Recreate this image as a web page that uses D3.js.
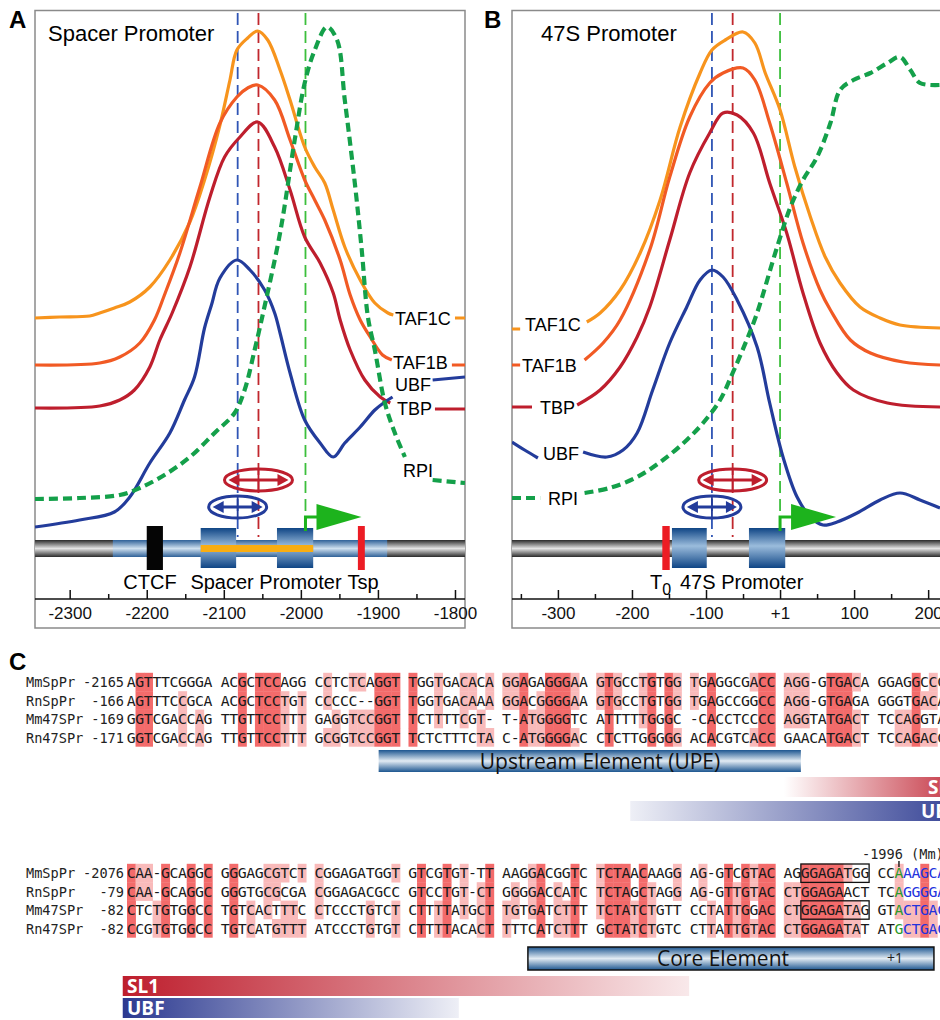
<!DOCTYPE html>
<html>
<head>
<meta charset="utf-8">
<script src="https://cdn.jsdelivr.net/npm/d3@7"></script>
<style>
  body { margin: 0; background: #fff; }
  svg { display: block; font-family: "Liberation Sans", Arial, sans-serif; }
</style>
</head>
<body>
<svg id="fig" width="940" height="1020"></svg>
<script>
// ---------- panel A: spacer promoter (position relative to 47S +1, occupancy a.u.) ----------
const spacerTicks = [-2300, -2200, -2100, -2000, -1900, -1800];
const spacerMinor = [-2250, -2150, -2050, -1950, -1850];
const spacerTAF1C = [[-2345,282],[-2313,283],[-2274,284],[-2261,287],[-2242,292],[-2222,298],[-2196,313],[-2170,340],[-2144,378],[-2125,420],[-2105,475],[-2092,520],[-2083,550],[-2069,562],[-2056,569],[-2043,560],[-2027,530],[-2014,500],[-1995,453],[-1982,433],[-1969,417],[-1958,390],[-1943,353],[-1923,320],[-1904,297],[-1887,287],[-1880,285], null, [-1800,282],[-1787,282]];
const spacerTAF1B = [[-2345,235],[-2261,237],[-2235,243],[-2209,257],[-2190,280],[-2177,305],[-2157,347],[-2131,413],[-2105,477],[-2083,503],[-2069,512],[-2056,515],[-2034,500],[-2014,460],[-1995,420],[-1982,400],[-1969,380],[-1949,340],[-1936,305],[-1923,280],[-1910,263],[-1894,245],[-1882,240], null, [-1804,235],[-1787,235]];
const spacerTBP = [[-2345,192],[-2261,194],[-2235,200],[-2216,210],[-2196,233],[-2183,260],[-2167,287],[-2144,333],[-2118,403],[-2099,443],[-2079,463],[-2056,478],[-2034,453],[-2014,410],[-1995,363],[-1975,337],[-1958,307],[-1949,280],[-1936,250],[-1917,220],[-1897,203],[-1884,197], null, [-1826,191],[-1787,191]];
const spacerUBF = [[-2345,73],[-2287,80],[-2242,88],[-2222,103],[-2196,137],[-2170,167],[-2151,200],[-2138,223],[-2125,272],[-2116,295],[-2105,322],[-2083,340],[-2066,330],[-2047,310],[-2034,287],[-2027,267],[-2014,227],[-1995,180],[-1975,157],[-1958,143],[-1943,157],[-1923,173],[-1904,190],[-1891,198],[-1881,203], null, [-1829,220],[-1787,223]];
const spacerRPI = [[-2345,101],[-2287,102],[-2235,105],[-2209,112],[-2177,125],[-2144,143],[-2112,167],[-2086,187],[-2073,210],[-2060,250],[-2049,287],[-2027,367],[-2008,460],[-1995,517],[-1982,550],[-1966,573],[-1953,560],[-1943,500],[-1930,417],[-1921,350],[-1913,283],[-1904,250],[-1891,197],[-1878,167],[-1865,143], null, [-1829,120],[-1787,117]];
const spacerMarks = [-2082, -2055, -1994];   // UBF, SL1, RPI start
const spacerRegion = [-2244, -1888];
const spacerBoxes = [[-2130,-2084],[-2031,-1984]];
const spacerCTCF = [-2200, -2179];
const spacerTsp = [-1926, -1917];

// ---------- panel B: 47S promoter ----------
const p47Ticks = [-300, -200, -100, 0, 100, 200];
const p47Minor = [-350, -250, -150, -50, 50, 150];
const p47TAF1C = [[-362,271],[-351,271], null, [-261,278],[-243,287],[-216,310],[-189,347],[-162,400],[-135,473],[-108,527],[-92,550],[-74,560],[-50,568],[-34,557],[-20,527],[0,490],[20,433],[41,383],[61,343],[81,317],[108,293],[135,282],[162,275],[216,272]];
const p47TAF1B = [[-362,235],[-351,235], null, [-264,240],[-239,257],[-216,280],[-176,350],[-149,423],[-122,483],[-95,517],[-77,527],[-50,532],[-34,520],[-14,477],[9,417],[31,357],[54,310],[68,290],[95,260],[122,247],[166,238],[216,235]];
const p47TBP = [[-362,193],[-335,193], null, [-274,195],[-243,210],[-216,233],[-193,263],[-176,293],[-149,360],[-122,427],[-95,467],[-77,487],[-58,485],[-36,467],[-14,417],[9,367],[31,307],[54,257],[77,227],[99,210],[145,197],[216,193]];
const p47UBF = [[-362,158],[-345,150],[-327,142], null, [-266,148],[-234,143],[-212,150],[-193,167],[-172,210],[-149,257],[-126,293],[-108,320],[-92,330],[-77,323],[-58,300],[-31,253],[-14,197],[4,143],[23,103],[41,83],[58,75],[77,78],[104,87],[135,100],[162,107],[189,100],[216,92]];
const p47RPI = [[-362,102],[-324,102], null, [-264,107],[-230,112],[-193,123],[-158,140],[-126,160],[-104,177],[-81,200],[-64,227],[-45,260],[-31,287],[-4,353],[14,393],[31,420],[50,443],[68,477],[81,510],[99,520],[122,527],[145,537],[162,543],[176,530],[189,517],[216,515]];
const p47Marks = [-92, -64, 0];
const p47Boxes = [[-146,-99],[-42,7]];
const p47T0 = [-159, -149];

// ---------- panel C: alignment ----------
const seqNames = ["MmSpPr", "RnSpPr", "Mm47SPr", "Rn47SPr"];
const block1Starts = ["-2165", "-166", "-169", "-171"];
const block1Seqs = [
  "AGTTTCGGGA ACGCTCCAGG CCTCTCAGGT TGGTGACACA GGAGAGGGAA GTGCCTGTGG TGAGGCGACC AGG-GTGACA GGAGGCCCA",
  "AGTTTCCGCA ACGCTCCTGT CCCCC--GGT TGGTGACAAA GGACGGGGAA GTGCCTGTGG TGAGCCGGCC AGG-GTGAGA GGGTGACAG",
  "GGTCGACCAG TTGTTCCTTT GAGGTCCGGT TCTTTTCGT- T-ATGGGGTC ATTTTTGGGC -CACCTCCCC AGGTATGACT TCCAGGTAG",
  "GGTCGACCAG TTGTTCCTTT GCGGTCCGGT TCTCTTTCTA C-ATGGGGAC CTCTTGGGGG ACACGTCACC GAACATGACT TCCAGACCG"
];
const block2Starts = ["-2076", "-79", "-82", "-82"];
const block2Seqs = [
  "CAA-GCAGGC GGGAGCGTCT CGGAGATGGT GTCGTGT-TT AAGGACGGTC TCTAACAAGG AG-GTCGTAC AGGGAGATGG CCAAAGCAG",
  "CAA-GCAGGC GGGTGCGCGA CGGAGACGCC GTCCTGT-CT GGGGACCATC TCTAGCTAGG AG-GTTGTAC CTGGAGAACT TCAGGGGAG",
  "CTCTGTGGCC TGTCACTTTC CTCCCTGTCT CTTTTATGCT TGTGATCTTT TCTATCTGTT CCTATTGGAC CTGGAGATAG GTACTGACG",
  "CCGTGTGGCC TGTCATGTTT ATCCCTGTGT CTTTTACACT TTTCATCTTT GCTATCTGTC CTTATTGTAC CTGGAGATAT ATGCTGACG"
];
const plusOneCol = 90;                 // column index of +1 in block 2
const boxedMotifs = [[0, 79, 86], [2, 79, 86]];  // [row, first col, last col]
const upeSpan = [29.5, 79];            // column spans
const coreSpan = [47, 94.6];
const sl1Span1 = [77, 100], ubfSpan1 = [59, 100];
const sl1Span2 = [-0.5, 65.9], ubfSpan2 = [-0.5, 38.9];

// ---------- styles ----------
const colors = { TAF1C: "#f7941d", TAF1B: "#f15a24", TBP: "#be1e2d", UBF: "#233c9b", RPI: "#14a04a" };
const markColors = ["#2f55b5", "#c1272d", "#3cbf3c"];

const svg = d3.select("#fig");
const defs = svg.append("defs");

function grad(id, horizontal, stops) {
  const g = defs.append("linearGradient").attr("id", id)
    .attr("x1", 0).attr("y1", 0).attr("x2", horizontal ? 1 : 0).attr("y2", horizontal ? 0 : 1);
  stops.forEach(([o, c, op]) => g.append("stop").attr("offset", o).attr("stop-color", c).attr("stop-opacity", op == null ? 1 : op));
}
grad("dnaGray", false, [[0, "#2a2a2a"], [0.5, "#e4e4e4"], [1, "#2a2a2a"]]);
grad("dnaBlue", false, [[0, "#2f6198"], [0.5, "#cfe0ef"], [1, "#2f6198"]]);
grad("boxBlue", false, [[0, "#0f4585"], [0.45, "#9bbcdc"], [1, "#0f4585"]]);
grad("elemBar", false, [[0, "#1d5690"], [0.5, "#e2ebf3"], [1, "#1d5690"]]);
grad("sl1R", true, [[0, "#be1e2d", 0], [1, "#be1e2d", 1]]);
grad("ubfR", true, [[0, "#2b3990", 0.08], [1, "#2b3990", 1]]);
grad("sl1L", true, [[0, "#be1e2d", 1], [1, "#be1e2d", 0.1]]);
grad("ubfL", true, [[0, "#2b3990", 1], [1, "#2b3990", 0.08]]);

const y = d3.scaleLinear().domain([0, 600]).range([600, 0]);

function drawPanel(p) {
  const x = d3.scaleLinear().domain(p.domain).range(p.range);
  const g = svg.append("g");
  const clipId = "clip" + p.letter;
  defs.append("clipPath").attr("id", clipId).append("rect")
    .attr("x", p.range[0]).attr("y", 10).attr("width", p.range[1] - p.range[0]).attr("height", 620);

  // frame
  g.append("rect").attr("x", p.range[0]).attr("y", 10.5).attr("width", p.frameW).attr("height", 617.5)
    .attr("fill", "none").attr("stroke", "#8a8a8a").attr("stroke-width", 1.5);
  g.append("text").attr("x", p.letterX).attr("y", 28).attr("font-size", 24).attr("font-weight", "bold").text(p.letter);
  g.append("text").attr("x", p.titleX).attr("y", 41).attr("font-size", 22).text(p.title);

  // vertical marker lines
  p.marks.forEach((m, i) => {
    g.append("line").attr("x1", x(m)).attr("x2", x(m)).attr("y1", 13).attr("y2", i === 2 ? 513 : 537)
      .attr("stroke", markColors[i]).attr("stroke-width", 1.8).attr("stroke-dasharray", "12,6");
  });

  // profiles
  const line = d3.line().defined(d => d).x(d => x(d[0])).y(d => y(d[1])).curve(d3.curveCatmullRom.alpha(0.5));
  const cg = g.append("g").attr("clip-path", `url(#${clipId})`);
  p.series.forEach(s => {
    cg.append("path").attr("d", line(s.data)).attr("fill", "none")
      .attr("stroke", colors[s.key]).attr("stroke-width", s.key === "RPI" ? 4.2 : 3.2)
      .attr("stroke-dasharray", s.key === "RPI" ? "9,5" : null)
      .attr("stroke-linecap", "butt");
  });
  p.labels.forEach(l => {
    g.append("text").attr("x", l.x).attr("y", l.y).attr("dy", "0.35em").attr("font-size", 18).text(l.t);
  });

  // DNA
  const dg = g.append("g");
  dg.append("rect").attr("x", p.range[0]).attr("y", 540).attr("width", p.range[1] - p.range[0]).attr("height", 17).attr("fill", "url(#dnaGray)");
  if (p.region) dg.append("rect").attr("x", x(p.region[0])).attr("y", 540).attr("width", x(p.region[1]) - x(p.region[0])).attr("height", 17).attr("fill", "url(#dnaBlue)");
  p.boxes.forEach(b => dg.append("rect").attr("x", x(b[0])).attr("y", 528).attr("width", x(b[1]) - x(b[0])).attr("height", 40).attr("fill", "url(#boxBlue)"));
  if (p.orange) dg.append("rect").attr("x", x(p.boxes[0][0])).attr("y", 545).attr("width", x(p.boxes[1][1]) - x(p.boxes[0][0])).attr("height", 7).attr("fill", "#f9ad12");
  if (p.ctcf) dg.append("rect").attr("x", x(p.ctcf[0])).attr("y", 526).attr("width", x(p.ctcf[1]) - x(p.ctcf[0])).attr("height", 44).attr("fill", "#050505");
  dg.append("rect").attr("x", x(p.red[0])).attr("y", 526).attr("width", x(p.red[1]) - x(p.red[0])).attr("height", 44).attr("fill", "#ec1c24");
  p.geneText.forEach(t => {
    const tx = dg.append("text").attr("x", t.x).attr("y", 589).attr("font-size", 20).attr("text-anchor", t.anchor || "start");
    tx.append("tspan").text(t.t);
    if (t.sub) tx.append("tspan").attr("font-size", 16).attr("dy", 6).text(t.sub);
  });

  // binding ellipses with double arrows
  [[p.marks[1], 480, 34, "#be1e2d"], [p.marks[0], 507, 29, "#233c9b"]].forEach(([m, cy, rx, c]) => {
    const cx = x(m);
    dg.append("ellipse").attr("cx", cx).attr("cy", cy).attr("rx", rx).attr("ry", 11)
      .attr("fill", "none").attr("stroke", c).attr("stroke-width", 3);
    dg.append("line").attr("x1", cx - rx + 12).attr("x2", cx + rx - 12).attr("y1", cy).attr("y2", cy).attr("stroke", c).attr("stroke-width", 3);
    dg.append("path").attr("fill", c)
      .attr("d", `M${cx - rx + 4},${cy} l11,-6 v12 z M${cx + rx - 4},${cy} l-11,-6 v12 z`);
    dg.append("line").attr("x1", cx).attr("x2", cx).attr("y1", cy - 11).attr("y2", cy + 11).attr("stroke", c).attr("stroke-width", 1.8);
  });

  // transcription start arrow
  const ax = x(p.marks[2]);
  dg.append("path").attr("d", `M${ax},531 V517 H${ax + 12}`).attr("fill", "none").attr("stroke", "#1db31d").attr("stroke-width", 3);
  dg.append("path").attr("d", `M${ax + 11},504 L${ax + 56},517 L${ax + 11},530 Z`).attr("fill", "#1db31d");

  // axis
  g.append("line").attr("x1", p.range[0]).attr("x2", p.range[0] + p.frameW).attr("y1", 599).attr("y2", 599).attr("stroke", "#111").attr("stroke-width", 1.5);
  const ax1 = g.append("g").attr("transform", "translate(0,599)")
    .call(d3.axisBottom(x).tickValues(p.ticks).tickSize(-9).tickPadding(8).tickFormat(p.fmt));
  const ax2 = g.append("g").attr("transform", "translate(0,599)")
    .call(d3.axisBottom(x).tickValues(p.minor.filter(v => x(v) > p.range[0] + 2)).tickSize(-5).tickFormat(""));
  [ax1, ax2].forEach(a => {
    a.select(".domain").remove();
    a.selectAll("line").attr("stroke", "#111").attr("stroke-width", 1.5);
    a.selectAll("text").attr("font-size", 17).attr("fill", "#111").attr("font-family", "Liberation Sans, Arial, sans-serif");
  });
}

drawPanel({
  letter: "A", letterX: 9, title: "Spacer Promoter", titleX: 48,
  domain: [-2345, -1787], range: [35, 465], frameW: 430,
  ticks: spacerTicks, minor: spacerMinor, fmt: d => d,
  marks: spacerMarks, region: spacerRegion, boxes: spacerBoxes, orange: true, ctcf: spacerCTCF, red: spacerTsp,
  series: [
    { key: "TAF1C", data: spacerTAF1C }, { key: "TAF1B", data: spacerTAF1B },
    { key: "TBP", data: spacerTBP }, { key: "UBF", data: spacerUBF }, { key: "RPI", data: spacerRPI }
  ],
  labels: [
    { t: "TAF1C", x: 395, y: 319 }, { t: "TAF1B", x: 393, y: 363 }, { t: "UBF", x: 395, y: 385 },
    { t: "TBP", x: 397, y: 409 }, { t: "RPI", x: 403, y: 471 }
  ],
  geneText: [{ t: "CTCF", x: 150, anchor: "middle" }, { t: "Spacer Promoter", x: 266, anchor: "middle" }, { t: "Tsp", x: 363, anchor: "middle" }]
});

drawPanel({
  letter: "B", letterX: 484, title: "47S Promoter", titleX: 541,
  domain: [-362, 216], range: [512, 940], frameW: 440,
  ticks: p47Ticks, minor: p47Minor, fmt: d => d === 0 ? "+1" : d,
  marks: p47Marks, region: null, boxes: p47Boxes, orange: false, ctcf: null, red: p47T0,
  series: [
    { key: "TAF1C", data: p47TAF1C }, { key: "TAF1B", data: p47TAF1B },
    { key: "TBP", data: p47TBP }, { key: "UBF", data: p47UBF }, { key: "RPI", data: p47RPI }
  ],
  labels: [
    { t: "TAF1C", x: 525, y: 325 }, { t: "TAF1B", x: 522, y: 366 }, { t: "TBP", x: 540, y: 408 },
    { t: "UBF", x: 543, y: 454 }, { t: "RPI", x: 548, y: 499 }
  ],
  geneText: [{ t: "T", sub: "0", x: 650 }, { t: "47S Promoter", x: 680 }]
});

// ---------- panel C ----------
svg.append("text").attr("x", 9).attr("y", 670).attr("font-size", 24).attr("font-weight", "bold").text("C");

const cw = 8.53, col0 = 127, rowH = 18.4;
const cx = i => col0 + i * cw;
const mono = "'DejaVu Sans Mono', 'Liberation Mono', monospace";
const seqSize = 14.8, nameSize = 13.6;

// conservation shading: all four identical = strong, three (or a lone pair) = light
function shading(seqs) {
  const n = d3.max(seqs, s => s.length);
  const out = seqs.map(() => []);
  for (let i = 0; i < n; i++) {
    const col = seqs.map(s => s[i]);
    const valid = col.filter(c => c && c !== "-" && c !== " ");
    if (!valid.length) continue;
    const counts = d3.rollups(valid, v => v.length, c => c).sort((a, b) => b[1] - a[1]);
    const [best, n1] = counts[0];
    if (n1 === 4) col.forEach((c, r) => out[r][i] = 2);
    else if (n1 === 3 || (n1 === 2 && (counts[1] || [0, 0])[1] < 2)) col.forEach((c, r) => { if (c === best) out[r][i] = 1; });
  }
  return out;
}

function drawBlock(seqs, starts, top, colored) {
  const g = svg.append("g");
  const sh = shading(seqs);
  sh.forEach((row, r) => row.forEach((lvl, i) => {
    if (!lvl) return;
    g.append("rect").attr("x", cx(i)).attr("y", top + r * rowH - 9.2).attr("width", cw + 0.4).attr("height", rowH + 0.3)
      .attr("fill", lvl === 2 ? "#f36b6b" : "#f9baba");
  }));
  seqs.forEach((s, r) => {
    const yy = top + r * rowH + 5.3;
    g.append("text").attr("x", 26).attr("y", yy).attr("font-family", mono).attr("font-size", nameSize).attr("fill", "#222").text(seqNames[r]);
    g.append("text").attr("x", 124).attr("y", yy).attr("text-anchor", "end").attr("font-family", mono).attr("font-size", nameSize).attr("fill", "#222").text(starts[r]);
    g.selectAll(null).data(s.split("").map((c, i) => ({ c, i })).filter(d => d.c !== " "))
      .join("text")
      .attr("x", d => cx(d.i) + cw / 2).attr("y", yy).attr("text-anchor", "middle")
      .attr("font-family", mono).attr("font-size", seqSize)
      .attr("fill", d => !colored ? "#1a1a1a" : d.i === plusOneCol ? "#2a9a2a" : d.i > plusOneCol ? "#2233dd" : "#1a1a1a")
      .text(d => d.c);
  });
  return g;
}

const top1 = 682, top2 = 873;
drawBlock(block1Seqs, block1Starts, top1, false);
const b2 = drawBlock(block2Seqs, block2Starts, top2, true);
boxedMotifs.forEach(([r, a, b]) => {
  b2.append("rect").attr("x", cx(a)).attr("y", top2 + r * rowH - 9).attr("width", cx(b + 1) - cx(a)).attr("height", rowH)
    .attr("fill", "none").attr("stroke", "#111").attr("stroke-width", 1.3);
});
svg.append("text").attr("x", cx(plusOneCol) + cw / 2).attr("y", 859).attr("font-family", mono).attr("font-size", nameSize)
  .attr("fill", "#222").attr("text-anchor", "start").attr("dx", -37).text("-1996 (Mm)");
svg.append("line").attr("x1", cx(plusOneCol) + cw / 2).attr("x2", cx(plusOneCol) + cw / 2).attr("y1", 861).attr("y2", 867).attr("stroke", "#222").attr("stroke-width", 1.5);

// element bars
function elemBar(span, yTop, h, label, border, extra) {
  const g = svg.append("g");
  g.append("rect").attr("x", cx(span[0])).attr("y", yTop).attr("width", cx(span[1]) - cx(span[0])).attr("height", h)
    .attr("fill", "url(#elemBar)").attr("stroke", border ? "#111" : "none").attr("stroke-width", 1.5);
  g.append("text").attr("x", label.x).attr("y", yTop + h / 2).attr("dy", "0.36em").attr("font-size", 21)
    .attr("font-family", "'Open Sans', 'Liberation Sans', sans-serif").attr("fill", "#111").attr("text-anchor", "middle").text(label.t);
  if (extra) g.append("text").attr("x", extra.x).attr("y", yTop + h / 2).attr("dy", "0.35em").attr("font-size", 14)
    .attr("font-family", "'Open Sans', sans-serif").attr("fill", "#222").text(extra.t);
}
elemBar(upeSpan, 750, 22, { t: "Upstream Element (UPE)", x: 600 }, false);
elemBar(coreSpan, 947, 23, { t: "Core Element", x: 723 }, true, { t: "+1", x: 887 });

function factorBar(span, yTop, fill, label, lx) {
  svg.append("rect").attr("x", cx(span[0])).attr("y", yTop).attr("width", cx(span[1]) - cx(span[0])).attr("height", 20).attr("fill", fill);
  svg.append("text").attr("x", lx).attr("y", yTop + 10).attr("dy", "0.36em").attr("font-size", 19).attr("font-weight", "bold")
    .attr("font-family", "'Open Sans', 'Liberation Sans', sans-serif").attr("fill", "#fff").text(label);
}
factorBar(sl1Span1, 777, "url(#sl1R)", "SL1", 928);
factorBar(ubfSpan1, 801, "url(#ubfR)", "UBF", 921);
factorBar(sl1Span2, 976, "url(#sl1L)", "SL1", 127);
factorBar(ubfSpan2, 998, "url(#ubfL)", "UBF", 127);
</script>
</body>
</html>
